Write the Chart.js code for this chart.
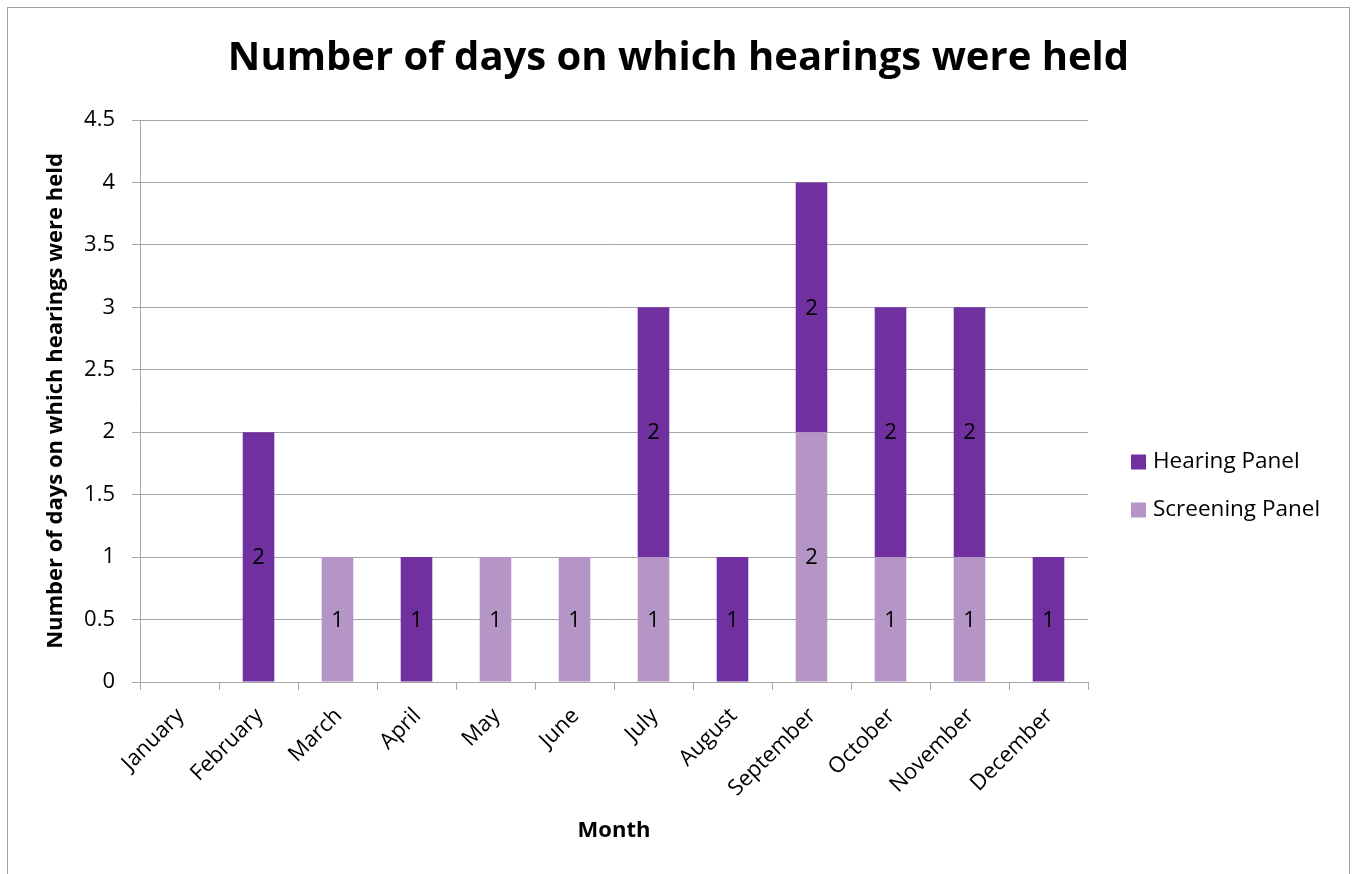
<!DOCTYPE html>
<html>
<head>
<meta charset="utf-8">
<script src="https://cdn.jsdelivr.net/npm/chart.js@4/dist/chart.umd.min.js"></script>
<style>
  html, body { margin: 0; padding: 0; background: #ffffff; }
  #wrap { width: 1357px; height: 874px; }
</style>
</head>
<body>
<div id="wrap"><canvas id="chart" width="1357" height="874"></canvas></div>
<script>
// Hearing days per month, split by panel type
const months = ['January', 'February', 'March', 'April', 'May', 'June',
                'July', 'August', 'September', 'October', 'November', 'December'];
const screeningPanel = [0, 0, 1, 0, 1, 1, 1, 0, 2, 1, 1, 0];
const hearingPanel   = [0, 2, 0, 1, 0, 0, 2, 1, 2, 2, 2, 1];
const yTickLabels = ['0', '0.5', '1', '1.5', '2', '2.5', '3', '3.5', '4', '4.5'];
const yAxisStep = 0.5;
const yAxisMax = 4.5;

const FONT = '"Open Sans", sans-serif';
const DARK = '#7030A0';
const LIGHT = '#B495C6';
const GRID = '#a6a6a6';

// White page with a thin grey frame
const framePlugin = {
  id: 'frame',
  beforeDraw(chart) {
    const ctx = chart.ctx;
    ctx.save();
    ctx.fillStyle = '#ffffff';
    ctx.fillRect(0, 0, chart.width, chart.height);
    ctx.strokeStyle = '#a0a0a0';
    ctx.lineWidth = 1;
    ctx.strokeRect(7.5, 7.5, chart.width - 15, chart.height + 10);
    ctx.restore();
  }
};

// Value labels centred in each non-empty segment
const segmentLabels = {
  id: 'segmentLabels',
  afterDatasetsDraw(chart) {
    const ctx = chart.ctx;
    ctx.save();
    ctx.font = '22px ' + FONT;
    ctx.fillStyle = '#000000';
    ctx.textAlign = 'center';
    ctx.textBaseline = 'middle';
    chart.data.datasets.forEach((ds, i) => {
      const meta = chart.getDatasetMeta(i);
      meta.data.forEach((bar, j) => {
        const v = ds.data[j];
        if (!v) return;
        const p = bar.getProps(['x', 'y', 'base'], true);
        ctx.fillText(String(v), p.x, (p.y + p.base) / 2 + 1);
      });
    });
    ctx.restore();
  }
};

// Legend at the right, top series listed first
const sideLegend = {
  id: 'sideLegend',
  afterDraw(chart) {
    const ctx = chart.ctx;
    const items = chart.data.datasets.slice().reverse();
    ctx.save();
    ctx.font = '22.5px ' + FONT;
    ctx.textAlign = 'left';
    ctx.textBaseline = 'middle';
    items.forEach((ds, k) => {
      const cy = 462 + k * 48;
      ctx.fillStyle = ds.backgroundColor;
      ctx.fillRect(1131, cy - 7.5, 15, 15);
      ctx.fillStyle = '#000000';
      ctx.fillText(ds.label, 1153, cy);
    });
    ctx.restore();
  }
};

new Chart(document.getElementById('chart'), {
  type: 'bar',
  data: {
    labels: months,
    datasets: [
      { label: 'Screening Panel', data: screeningPanel, backgroundColor: LIGHT,
        borderWidth: 0, barPercentage: 0.4, categoryPercentage: 1.0 },
      { label: 'Hearing Panel', data: hearingPanel, backgroundColor: DARK,
        borderWidth: 0, barPercentage: 0.4, categoryPercentage: 1.0 }
    ]
  },
  options: {
    responsive: false,
    animation: false,
    devicePixelRatio: 1,
    layout: { padding: 0 },
    plugins: {
      legend: { display: false },
      tooltip: { enabled: false },
      title: {
        display: true,
        text: 'Number of days on which hearings were held',
        color: '#000000',
        font: { family: FONT, size: 40, weight: 'bold' },
        padding: { top: 35, bottom: 37 }
      }
    },
    scales: {
      x: {
        stacked: true,
        grid: { offset: true, drawOnChartArea: false, tickLength: 8, color: GRID },
        border: { display: true, color: GRID },
        ticks: {
          color: '#000000',
          font: { family: FONT, size: 22 },
          maxRotation: 45, minRotation: 45,
          autoSkip: false,
          padding: 13,
          labelOffset: 1
        },
        title: {
          display: true, text: 'Month', color: '#000000',
          font: { family: FONT, size: 22, weight: 'bold' },
          padding: { top: 4, bottom: 30 }
        },
        afterFit(scale) { scale.height = 192; }
      },
      y: {
        stacked: true,
        min: 0, max: yAxisMax,
        grid: { color: GRID, tickLength: 8 },
        border: { display: true, color: GRID },
        ticks: {
          stepSize: yAxisStep,
          color: '#000000',
          font: { family: FONT, size: 22 },
          padding: 17,
          callback: (value, index) => yTickLabels[index]
        },
        title: {
          display: true, text: 'Number of days on which hearings were held', color: '#000000',
          font: { family: FONT, size: 22, weight: 'bold' },
          padding: { top: 43, bottom: 4 }
        },
        afterFit(scale) { scale.width = 140; }
      },
      // empty right-hand gutter that holds the legend
      legendGutter: {
        type: 'linear',
        position: 'right',
        display: true,
        grid: { display: false },
        border: { display: false },
        ticks: { display: false },
        afterFit(scale) { scale.width = 269; }
      }
    }
  },
  plugins: [framePlugin, segmentLabels, sideLegend]
});
</script>
</body>
</html>
